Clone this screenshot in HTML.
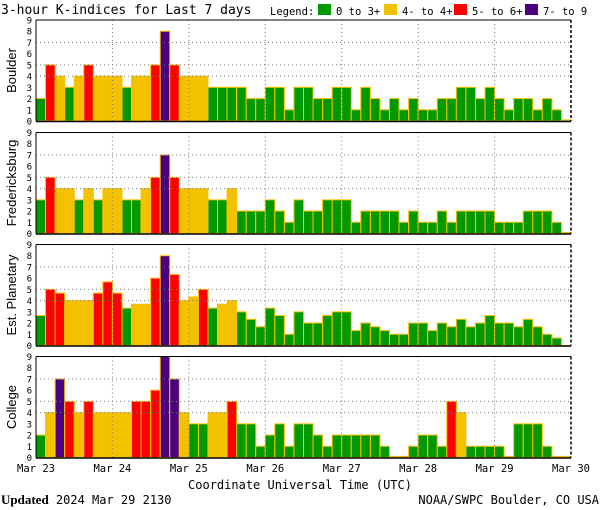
<!DOCTYPE html>
<html><head><meta charset="utf-8"><style>
body{margin:0;background:#fff;}
svg{display:block;font-family:"DejaVu Sans Mono","Liberation Mono",monospace;}
</style></head><body>
<svg id="c" width="600" height="510" viewBox="0 0 600 510">
<text x="1" y="14" font-size="13" fill="#000">3-hour K-indices for Last 7 days</text>
<g font-size="10.5">
<text x="270" y="15">Legend:</text>
<rect x="318" y="4" width="13" height="11" fill="#009900"/>
<text x="336" y="15">0 to 3+</text>
<rect x="384" y="4" width="13" height="11" fill="#f2c200"/>
<text x="402" y="15">4- to 4+</text>
<rect x="454" y="4" width="13" height="11" fill="#ff0000"/>
<text x="472" y="15">5- to 6+</text>
<rect x="525" y="4" width="13" height="11" fill="#4b0082"/>
<text x="543" y="15">7- to 9</text>
</g>
<text x="300" y="489" font-size="12" text-anchor="middle">Coordinate Universal Time (UTC)</text>
<text x="1" y="504" font-size="12"><tspan font-weight="bold" font-family="Liberation Serif,serif" font-size="13">Updated</tspan> 2024 Mar 29 2130</text>
<text x="599" y="504" font-size="12" text-anchor="end">NOAA/SWPC Boulder, CO USA</text>
</svg>
<script>
const stations = ["Boulder","Fredericksburg","Est. Planetary","College"];
const dayLabels = ["Mar 23","Mar 24","Mar 25","Mar 26","Mar 27","Mar 28","Mar 29","Mar 30"];
const yTicks = [0,1,2,3,4,5,6,7,8,9];
const boulder = [2,5,4,3,4,5,4,4,4,3,4,4,5,8,5,4,4,4,3,3,3,3,2,2,3,3,1,3,3,2,2,3,3,1,3,2,1,2,1,2,1,1,2,2,3,3,2,3,2,1,2,2,1,2,1,0.1];
const fredericksburg = [3,5,4,4,3,4,3,4,4,3,3,4,5,7,5,4,4,4,3,3,4,2,2,2,3,2,1,3,2,2,3,3,3,1,2,2,2,2,1,2,1,1,2,1,2,2,2,2,1,1,1,2,2,2,1,0.1];
const planetary = [2.67,5,4.67,4,4,4,4.67,5.67,4.67,3.33,3.67,3.67,6,8,6.33,4,4.33,5,3.33,3.67,4,3,2.33,1.67,3.33,2.67,1,3,2,2,2.67,3,3,1.33,2,1.67,1.33,1,1,2,2,1.33,2,1.67,2.33,1.67,2,2.67,2,2,1.67,2.33,1.67,1,0.67,0];
const college = [2,4,7,5,4,5,4,4,4,4,5,5,6,9,7,4,3,3,4,4,5,3,3,1,2,3,1,3,3,2,1,2,2,2,2,2,1,0.1,0.1,1,2,2,1,5,4,1,1,1,1,0.1,3,3,3,1,0.1,0.1];
const series = [boulder,fredericksburg,planetary,college];
const svg=document.getElementById('c');
const NS='http://www.w3.org/2000/svg';
const X0=36,X1=571,NB=56,BW=(X1-X0)/NB;
const tops=[20,132.5,244.5,356.5],H=101;
function xs(i){return X0+i*BW;}
function col(v){return v<3.5?'#009900':v<4.5?'#f2c200':v<6.5?'#ff0000':'#4b0082';}
function mk(t,a,p){const e=document.createElementNS(NS,t);for(const k in a)e.setAttribute(k,a[k]);(p||svg).appendChild(e);return e;}
series.forEach((vals,s)=>{
  const top=tops[s],bot=top+H;
  const ys=v=>bot-v*H/9;
  const g=mk('g',{});
  
  
  vals.forEach((v,i)=>{
    const r=mk('rect',{x:xs(i),y:ys(v),width:BW,height:Math.max(bot-ys(v),0.5),fill:col(v),stroke:'#ffc000','stroke-width':1},g);
    
    
  });
  [4,5,7].forEach(t=>{const l=mk('line',{x1:X0,x2:X1,y1:ys(t),y2:ys(t),stroke:'#777','stroke-dasharray':'1,3'},g);
    });
  for(let d=1;d<7;d++){const l=mk('line',{x1:X0+d*8*BW,x2:X0+d*8*BW,y1:top,y2:bot,stroke:'#777','stroke-dasharray':'1,3'},g);
    }
  mk('line',{x1:X0,x2:X1,y1:top,y2:top,stroke:'#000','stroke-width':1},g);
  mk('line',{x1:X0,x2:X0,y1:top,y2:bot,stroke:'#000','stroke-width':1},g);
  mk('line',{x1:X1,x2:X1,y1:top,y2:bot,stroke:'#000','stroke-width':1.5,'stroke-dasharray':'3,2'},g);
  mk('line',{x1:X0,x2:X1,y1:bot+0.5,y2:bot+0.5,stroke:'#000','stroke-width':1.5},g);
  yTicks.forEach(t=>{const tx=mk('text',{x:32,y:ys(t)+3.5,'font-size':9,'text-anchor':'end'},g);tx.textContent=t;
    });
  const cy=top+H/2;
  const yt=mk('text',{x:0,y:0,'font-size':13,'font-family':'Liberation Sans, sans-serif','text-anchor':'middle',transform:`translate(16,${cy}) rotate(-90)`},g);
  yt.textContent=stations[s];
  
  
});
dayLabels.forEach((d,i)=>{const t=mk('text',{x:X0+i*8*BW,y:472,'font-size':10.5,'text-anchor':'middle'});t.textContent=d;
  });
</script>
</body></html>
